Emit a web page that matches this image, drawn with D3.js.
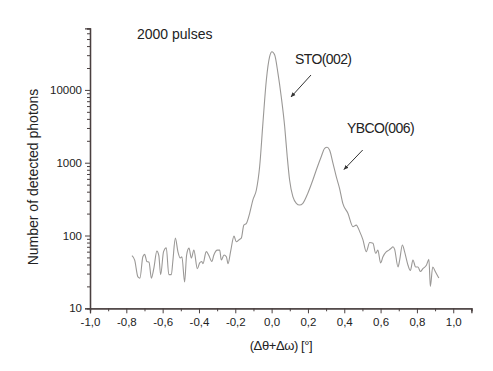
<!DOCTYPE html>
<html lang="en">
	<head>
		<meta charset="utf-8">
		<title>Rocking curve</title>
		<script type="text/javascript" src="https://cdn.jsdelivr.net/npm/d3@7"></script>
		<style type="text/css">
			body { margin: 0; background: white; }
			svg text { font-family: "Liberation Sans", Arial, sans-serif; fill: #222; }
		</style>
	</head>
	<body>
		<script type="text/javascript">
			var w = 493;
			var h = 371;

			// angle offsets (deg) and detected photon counts
			var angles = [-0.769, -0.754, -0.736, -0.725, -0.709, -0.699, -0.687, -0.675, -0.662, -0.648,
				-0.632, -0.621, -0.611, -0.595, -0.580, -0.566, -0.552, -0.544, -0.530, -0.516,
				-0.503, -0.494, -0.479, -0.468, -0.455, -0.442, -0.428, -0.409, -0.396, -0.385,
				-0.378, -0.360, -0.347, -0.329, -0.318, -0.299, -0.286, -0.277, -0.262, -0.249,
				-0.240, -0.226, -0.207, -0.195, -0.176, -0.167, -0.153, -0.139, -0.121, -0.103,
				-0.084, -0.066, -0.048, -0.029, -0.011, 0.002, 0.017, 0.035, 0.053, 0.072,
				0.086, 0.099, 0.117, 0.136, 0.154, 0.172, 0.200, 0.227, 0.246, 0.273,
				0.292, 0.305, 0.319, 0.338, 0.356, 0.374, 0.392, 0.420, 0.448, 0.466,
				0.485, 0.503, 0.521, 0.540, 0.558, 0.573, 0.585, 0.600, 0.613, 0.632,
				0.646, 0.659, 0.668, 0.677, 0.696, 0.705, 0.720, 0.732, 0.751, 0.764,
				0.778, 0.793, 0.806, 0.819, 0.833, 0.852, 0.866, 0.874, 0.887, 0.901, 0.921];
			var counts = [53, 46, 27, 26, 51, 55, 44, 43, 26, 36,
				61, 53, 29, 60, 68, 29, 29, 44, 92, 60,
				49, 51, 23, 54, 67, 49, 63, 35, 42, 44,
				41, 60, 54, 44, 54, 63, 63, 46, 54, 51,
				41, 60, 98, 82, 89, 92, 139, 147, 202, 308,
				422, 881, 3475, 13680, 28560, 33500, 30150, 16900, 8070, 3120,
				1208, 578, 341, 277, 262, 277, 384, 578, 794, 1208,
				1577, 1630, 1494, 981, 643, 445, 277, 202, 132, 139,
				113, 87, 60, 80, 78, 57, 63, 42, 51, 60,
				63, 67, 70, 65, 37, 46, 74, 60, 39, 33,
				46, 37, 37, 32, 35, 39, 47, 20, 37, 32, 26];

			var xMajor = [-1.0, -0.8, -0.6, -0.4, -0.2, 0.0, 0.2, 0.4, 0.6, 0.8, 1.0];
			var xMinor = [-0.9, -0.7, -0.5, -0.3, -0.1, 0.1, 0.3, 0.5, 0.7, 0.9, 1.1];
			var yMajor = [10, 100, 1000, 10000];

			var pLeft = 90, pRight = 471.4, pTop = 28.4, pBottom = 308.3;

			var xScale = d3.scaleLinear().domain([-1.0, 1.1]).range([pLeft, pRight]);
			var yScale = d3.scaleLog().domain([10, 70000]).range([pBottom, pTop]);

			var svg = d3.select("body").append("svg")
				.attr("width", w)
				.attr("height", h);

			var axisColor = "#4a4040";

			//minor log ticks
			var yMinor = [];
			[10, 100, 1000, 10000].forEach(function(d) {
				for (var k = 2; k <= 9; k++) {
					if (d * k <= 70000) yMinor.push(d * k);
				}
			});

			var fmtX = function(d) { return d3.format(".1f")(d).replace(".", ",").replace("\u2212", "-"); };

			svg.append("g")
				.attr("transform", "translate(0," + pBottom + ")")
				.call(d3.axisBottom(xScale).tickValues(xMajor).tickSize(5).tickPadding(5).tickFormat(fmtX));
			svg.append("g")
				.attr("transform", "translate(0," + pBottom + ")")
				.call(d3.axisBottom(xScale).tickValues(xMinor).tickSize(3).tickFormat(""));

			svg.append("g")
				.attr("transform", "translate(" + pLeft + ",0)")
				.call(d3.axisLeft(yScale).tickValues(yMajor).tickSize(5).tickPadding(3).tickFormat(d3.format("d")));
			svg.append("g")
				.attr("transform", "translate(" + pLeft + ",0)")
				.call(d3.axisLeft(yScale).tickValues(yMinor).tickSize(3).tickFormat(""));

			svg.selectAll(".domain").attr("stroke", axisColor).attr("stroke-width", 1.3);
			svg.selectAll(".tick line").attr("stroke", axisColor).attr("stroke-width", 1);
			svg.selectAll(".tick text")
				.attr("font-size", "11.5px")
				.attr("fill", "#222")
				.style("font-family", "Liberation Sans, Arial, sans-serif");

			//the curve
			var line = d3.line()
				.x(function(d, i) { return xScale(angles[i]); })
				.y(function(d) { return yScale(d); })
				.curve(d3.curveMonotoneX);

			svg.append("path")
				.datum(counts)
				.attr("d", line)
				.attr("fill", "none")
				.attr("stroke", "#9a9896")
				.attr("stroke-width", 1.1);

			//labels
			svg.append("text")
				.attr("x", 137).attr("y", 39)
				.attr("font-size", "14px")
				.text("2000 pulses");

			svg.append("text")
				.attr("transform", "translate(38,177) rotate(-90)")
				.attr("text-anchor", "middle")
				.attr("font-size", "14px")
				.text("Number of detected photons");

			svg.append("text")
				.attr("x", 281).attr("y", 350)
				.attr("text-anchor", "middle")
				.attr("font-size", "13px")
				.attr("letter-spacing", "-0.4px")
				.text("(\u0394\u03b8+\u0394\u03c9) [\u00b0]");

			svg.append("text")
				.attr("x", 295).attr("y", 64)
				.attr("font-size", "14px")
				.attr("letter-spacing", "-0.6px")
				.text("STO(002)");

			svg.append("text")
				.attr("x", 347).attr("y", 133)
				.attr("font-size", "14px")
				.attr("letter-spacing", "-0.6px")
				.text("YBCO(006)");

			//arrows
			svg.append("defs").append("marker")
				.attr("id", "head")
				.attr("viewBox", "0 0 10 10")
				.attr("refX", 9).attr("refY", 5)
				.attr("markerWidth", 5).attr("markerHeight", 5)
				.attr("orient", "auto")
				.append("path")
				.attr("d", "M0,1L10,5L0,9z")
				.attr("fill", "#333");

			var arrows = [[311, 75, 291, 97], [362.7, 150, 344, 169.5]];
			svg.selectAll("line.arrow")
				.data(arrows)
				.enter()
				.append("line")
				.attr("class", "arrow")
				.attr("x1", function(d) { return d[0]; })
				.attr("y1", function(d) { return d[1]; })
				.attr("x2", function(d) { return d[2]; })
				.attr("y2", function(d) { return d[3]; })
				.attr("stroke", "#333")
				.attr("stroke-width", 1)
				.attr("marker-end", "url(#head)");
		</script>
	</body>
</html>
